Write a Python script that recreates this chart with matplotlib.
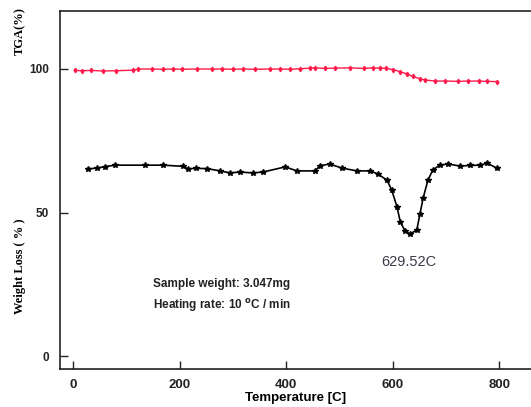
import matplotlib
matplotlib.use("Agg")
import matplotlib.pyplot as plt

# TGA curve (red)
tga_temp = [4, 16, 34, 56, 81, 113, 122, 147, 169, 188, 204, 232, 260, 279, 300,
            319, 341, 369, 388, 407, 426, 444, 454, 472, 491, 519, 545, 563, 576,
            588, 601, 613, 626, 638, 651, 660, 679, 698, 723, 742, 761, 776, 795]
tga_val = [99.5, 99.4, 99.5, 99.3, 99.4, 99.6, 100.0, 100.0, 99.9, 100.0, 99.9,
           100.0, 100.0, 100.0, 99.9, 100.0, 99.9, 100.0, 100.0, 99.9, 100.1,
           100.3, 100.4, 100.2, 100.3, 100.4, 100.2, 100.4, 100.3, 100.2, 99.8,
           99.1, 98.3, 97.4, 96.6, 96.2, 95.8, 95.8, 95.7, 95.8, 95.8, 95.7, 95.6]

# weight loss derivative curve (black)
dtg_temp = [28, 45, 60, 78, 135, 169, 206, 215, 230, 251, 276, 294, 313, 337,
            356, 398, 420, 454, 463, 482, 504, 533, 558, 572, 589, 598, 608, 614,
            623, 632, 645, 651, 657, 666, 675, 688, 704, 726, 745, 764, 777, 795]
dtg_val = [65.2, 65.5, 66.0, 66.5, 66.5, 66.5, 66.1, 65.2, 65.4, 65.3, 64.5,
           63.8, 64.1, 63.8, 64.1, 65.9, 64.5, 64.5, 66.3, 66.9, 65.5, 64.5,
           64.5, 63.4, 61.3, 57.8, 51.9, 46.7, 43.6, 42.5, 43.9, 49.5, 55.1,
           61.3, 64.8, 66.5, 66.9, 66.2, 66.4, 66.5, 67.2, 65.5]

peak_label = "629.52C"
peak_pos = (630, 32.8)

fig = plt.figure(figsize=(5.31, 4.07), dpi=100)
ax = fig.add_axes([60 / 531, 38 / 407, 471 / 531, 358 / 407])

ax.plot(tga_temp, tga_val, color="#ff1a4a", lw=1.0, marker="d", ms=2.3,
        mec="#ff1a4a", mfc="#ff1a4a")
ax.plot(dtg_temp, dtg_val, color="black", lw=1.2, marker="*", ms=4)

ax.set_xlim(-25, 859.5)
ax.set_ylim(-4.5, 120.2)
ax.set_xticks([0, 200, 400, 600, 800])
ax.set_yticks([0, 50, 100])

ax.spines["right"].set_visible(False)
for s in ["left", "bottom", "top"]:
    ax.spines[s].set_linewidth(1.2)
    ax.spines[s].set_color("#222222")

ax.tick_params(direction="in", length=6, width=1, colors="#222222")
ax.tick_params(axis="x", pad=7)
ax.tick_params(axis="y", pad=8)
for lab in ax.get_xticklabels():
    lab.set_fontweight("bold")
    lab.set_fontsize(9.5)
    lab.set_family("Liberation Sans")
for lab in ax.get_yticklabels():
    lab.set_fontweight("bold")
    lab.set_fontsize(8.5)
    lab.set_family("Liberation Sans")

ax.set_xlabel("Temperature [C]", fontsize=9.5, fontweight="bold",
              family="Liberation Sans", labelpad=1)

ax.text(peak_pos[0], peak_pos[1], peak_label, fontsize=10.5, color="#3a3a4a",
        family="Liberation Sans", ha="center", va="center")
ax.text(150, 25, "Sample weight: 3.047mg", fontsize=8.5, fontweight="bold",
        family="Liberation Sans", color="#222222", va="center")
ax.text(150, 17.5, "Heating rate: 10 $^{\\mathbf{o}}$C / min", fontsize=8.5,
        fontweight="bold", family="Liberation Sans", color="#222222", va="center")

fig.text(20 / 531, 1 - 31 / 407, "TGA(%)", rotation=90, ha="center",
         va="center", fontsize=9, fontweight="bold", family="Liberation Serif")
fig.text(20 / 531, 1 - 266 / 407, "Weight Loss ( % )", rotation=90, ha="center",
         va="center", fontsize=9, fontweight="bold", family="Liberation Serif")

fig.savefig("out.png", dpi=100)
